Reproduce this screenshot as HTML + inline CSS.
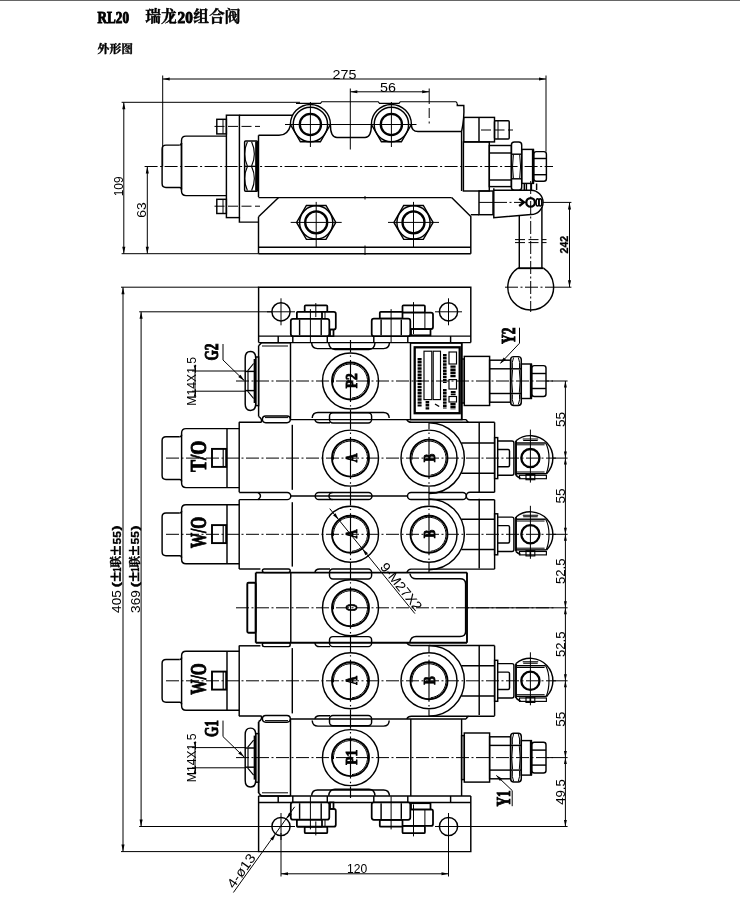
<!DOCTYPE html>
<html><head><meta charset="utf-8"><title>RL20</title>
<style>
html,body{margin:0;padding:0;background:#fff;}
body{width:740px;height:898px;overflow:hidden;font-family:"Liberation Sans",sans-serif;}
svg{display:block;will-change:transform;}
.o{fill:none;stroke:#000;stroke-width:1.45;}
.k2{fill:none;stroke:#000;stroke-width:1.9;}
.t1{fill:none;stroke:#000;stroke-width:1.15;}
.k{fill:none;stroke:#000;stroke-width:2.3;}
.t{fill:none;stroke:#000;stroke-width:1;}
.c{fill:none;stroke:#000;stroke-width:1;stroke-dasharray:13 2.5 2 2.5;}
.d{fill:none;stroke:#000;stroke-width:1;stroke-dasharray:10 3.5;}
.af{fill:#000;stroke:none;}
.pm{fill:none;stroke:#000;stroke-width:1.7;}
.bf{fill:#000;stroke:none;}
.wf{fill:#fff;stroke:#000;stroke-width:1.45;}
.wk{fill:#fff;stroke:#000;stroke-width:1.75;}
.tc{font-family:"Liberation Serif","Noto Serif CJK SC",serif;font-weight:bold;fill:#000;stroke:#000;stroke-width:0.4;}
.ts{font-family:"Liberation Sans",sans-serif;fill:#000;}
.tb{font-family:"Liberation Serif",serif;font-weight:bold;fill:#000;stroke:#000;stroke-width:0.95;}
.tsb{font-family:"Liberation Sans",sans-serif;font-weight:bold;fill:#000;stroke:#000;stroke-width:0.3;}
</style></head><body>
<svg width="740" height="898" viewBox="0 0 740 898">
<rect x="0" y="0" width="740" height="1" fill="#666"/>
<text class="tb" x="97.6" y="22.6" font-size="16" textLength="31.4" lengthAdjust="spacingAndGlyphs">RL20</text>
<text class="tc" x="145.3" y="22.3" font-size="15.8" textLength="31.6" lengthAdjust="spacingAndGlyphs">瑞龙</text>
<text class="tb" x="177.6" y="22.6" font-size="16" textLength="15.2" lengthAdjust="spacingAndGlyphs">20</text>
<text class="tc" x="193.2" y="22.3" font-size="15.8" textLength="47.4" lengthAdjust="spacingAndGlyphs">组合阀</text>
<text class="tc" x="97.6" y="53.2" font-size="11.8" textLength="35.4" lengthAdjust="spacingAndGlyphs">外形图</text>
<path class="t" d="M162.7 79L546 79"/>
<path class="af" d="M162.7 79L169.7 77.45L169.7 80.55Z"/>
<path class="af" d="M546 79L539 80.55L539 77.45Z"/>
<path class="t" d="M162.7 75.5L162.7 166.5"/>
<path class="t" d="M546 75.5L546 151.6"/>
<text class="ts" transform="translate(344.55 73.85)" x="-11.95" y="4.76" font-size="13.5" textLength="23.9" lengthAdjust="spacingAndGlyphs">275</text>
<path class="t" d="M350.3 91.8L429.2 91.8"/>
<path class="af" d="M350.3 91.8L357.3 90.25L357.3 93.35Z"/>
<path class="af" d="M429.2 91.8L422.2 93.35L422.2 90.25Z"/>
<path class="t" d="M350.3 88.5L350.3 149.5"/>
<path class="t" d="M429.2 88.5L429.2 104"/>
<path class="d" d="M429.2 108L429.2 123.5"/>
<text class="ts" transform="translate(387.95 86.8)" x="-7.95" y="4.76" font-size="13.5" textLength="15.9" lengthAdjust="spacingAndGlyphs">56</text>
<path class="t" d="M123.8 102.3L123.8 253.7"/>
<path class="af" d="M123.8 102.3L125.35 109.3L122.25 109.3Z"/>
<path class="af" d="M123.8 253.7L122.25 246.7L125.35 246.7Z"/>
<path class="t" d="M147.3 166.5L147.3 253.7"/>
<path class="af" d="M147.3 166.5L148.85 173.5L145.75 173.5Z"/>
<path class="af" d="M147.3 253.7L145.75 246.7L148.85 246.7Z"/>
<path class="t" d="M121.6 102.3L300 102.3"/>
<path class="t1" d="M296 103.4H320.5L321.8 101.7H378.2L379.5 103.4H399L400.3 101.7H456L457.3 103.4"/>
<path class="t" d="M121.6 253.7L258.5 253.7"/>
<text class="ts" transform="translate(118.2 186.4) rotate(-90)" x="-9.9" y="4.76" font-size="13.5" textLength="19.8" lengthAdjust="spacingAndGlyphs">109</text>
<text class="ts" transform="translate(141.5 210.1) rotate(-90)" x="-7.75" y="4.76" font-size="13.5" textLength="15.5" lengthAdjust="spacingAndGlyphs">63</text>
<path class="c" d="M144.6 166.5L553 166.5"/>
<path class="o" d="M179.5 145.1H166Q162.1 145.1 162.1 149V183.5Q162.1 187.4 166 187.4H179.5Q181.5 187.4 181.5 189.4"/>
<path class="o" d="M179.5 145.1Q181.5 145.1 181.5 143.1"/>
<path class="o" d="M226.4 136.1H186Q181.5 136.1 181.5 140.6V191.1Q181.5 195.6 186 195.6H226.4"/>
<path class="o" d="M181.5 143L181.5 189.5"/>
<rect class="o" x="226.4" y="115.2" width="13" height="102.4"/>
<rect class="o" x="216.8" y="119.3" width="9.6" height="14.6"/>
<rect class="o" x="216.8" y="199.3" width="9.6" height="14.2"/>
<path class="t" d="M223 119.3L223 133.9"/>
<path class="t" d="M223 199.3L223 213.5"/>
<path class="d" d="M214.5 126.4L260 126.4"/>
<path class="d" d="M214.5 206.2L260 206.2"/>
<path class="o" d="M239.4 115.2L293 115.2"/>
<path class="o" d="M239.4 217.6V222.1H258.5"/>
<path class="o" d="M258.5 135.3L258.5 197.1"/>
<path class="o" d="M258.5 216.8L258.5 253.7"/>
<path class="o" d="M258.5 135.3H279Q288 135.3 290.6 125"/>
<path class="o" d="M258.5 216.8L278.6 197.4"/>
<path class="o" d="M258.5 197.6L451.6 197.6"/>
<path class="o" d="M451.6 197.6L470.8 216.5V253.7"/>
<path class="o" d="M258.5 247.3L470.8 247.3"/>
<path class="o" d="M258.5 253.7L470.8 253.7"/>
<path class="t" d="M365 196L365 199.5"/>
<path class="t" d="M365 245.5L365 255"/>
<rect class="o" x="244.6" y="141" width="13" height="50.2" rx="1"/>
<path class="k" d="M256.3 141.5L256.3 190.8"/>
<path class="t" d="M244.6 166.2L255 166.2"/>
<path class="t1" d="M247.4 141.8Q241.9 154 247.4 166M251.6 141.8Q257.1 154 251.6 166M247.4 166.6Q241.9 178.5 247.4 190.6M251.6 166.6Q257.1 178.5 251.6 190.6"/>
<path class="o" d="M290.4 124.5A20 20 0 0 1 330.4 124.5"/>
<path class="o" d="M330.4 124.5L320.4 141.82L300.4 141.82L290.4 124.5"/>
<circle class="o" cx="310.4" cy="124.5" r="17.2"/>
<circle class="k" cx="310.4" cy="124.5" r="10.6"/>
<path class="t" d="M310.4 102L310.4 147"/>
<path class="o" d="M371.4 124.5A20 20 0 0 1 411.4 124.5"/>
<path class="o" d="M411.4 124.5L401.4 141.82L381.4 141.82L371.4 124.5"/>
<circle class="o" cx="391.4" cy="124.5" r="17.2"/>
<circle class="k" cx="391.4" cy="124.5" r="10.6"/>
<path class="t" d="M391.4 102L391.4 147"/>
<path class="t" d="M285 124.5L416.5 124.5"/>
<path class="o" d="M330.4 124.5Q330.4 137.5 337 137.5H365Q371.4 137.5 371.4 124.5"/>
<path class="o" d="M411.4 124.5Q411.4 131.5 418 131.5H461.6"/>
<path class="o" d="M457.3 103.4V105.5H463.8Q464.5 118 461.6 131.5V191"/>
<rect class="o" x="463.4" y="141.9" width="25.9" height="49.1"/>
<rect class="o" x="463.8" y="117.4" width="30.7" height="24.5"/>
<path class="o" d="M479 117.4L479 141.9"/>
<rect class="o" x="494.5" y="120.7" width="14.7" height="18.3" rx="1"/>
<path class="t" d="M498 120.7L498 139"/>
<path class="d" d="M481 130L513 130"/>
<rect class="o" x="489.3" y="145.5" width="22.1" height="41.1"/>
<path class="o" d="M489.3 153L511.4 153"/>
<path class="o" d="M489.3 180L511.4 180"/>
<rect class="o" x="511.4" y="141.9" width="10.3" height="48.4" rx="3"/>
<path class="o" d="M511.4 154.2L521.7 154.2"/>
<path class="o" d="M511.4 178.8L521.7 178.8"/>
<path class="t" d="M513.4 154.8Q511.7 166.5 513.4 178.2M519.7 154.8Q521.4 166.5 519.7 178.2"/>
<rect class="o" x="521.7" y="149.4" width="11.7" height="34"/>
<path class="k" d="M533 149.4L533 183.4"/>
<rect class="o" x="533.8" y="151.6" width="12.6" height="29.6" rx="2.5"/>
<path class="o" d="M533.8 158.5L546.4 158.5"/>
<path class="o" d="M533.8 174.7L546.4 174.7"/>
<rect class="o" x="479" y="191" width="14" height="23.7"/>
<path class="t" d="M479 202.4L493 202.4"/>
<path class="o" d="M470.8 214.7L479 214.7"/>
<path class="o" d="M335.8 222.4L326 239.37L306.4 239.37L296.6 222.4L306.4 205.43L326 205.43Z"/>
<circle class="o" cx="316.2" cy="222.4" r="16.6"/>
<circle class="k" cx="316.2" cy="222.4" r="11"/>
<path class="t" d="M290.7 222.4L341.7 222.4"/>
<path class="t" d="M316.2 201.9L316.2 247.9"/>
<path class="o" d="M433.1 222.4L423.3 239.37L403.7 239.37L393.9 222.4L403.7 205.43L423.3 205.43Z"/>
<circle class="o" cx="413.5" cy="222.4" r="16.6"/>
<circle class="k" cx="413.5" cy="222.4" r="11"/>
<path class="t" d="M388 222.4L439 222.4"/>
<path class="t" d="M413.5 201.9L413.5 247.9"/>
<path class="o" d="M493.8 188.2V217.6L531 214.5A12 12.1 0 0 0 531 190.2H494.5"/>
<path class="o" d="M524.3 183.4V190M526.4 183.4V190M531.4 183.4V190M536.6 183.4V190"/>
<circle class="k" cx="530.6" cy="202.4" r="4.3"/>
<path class="c" d="M494 202.4L526 202.4"/>
<path class="k" d="M519.2 198.6L524 202.3L519.2 206"/>
<ellipse class="o" cx="537.6" cy="202.4" rx="1.5" ry="3.6"/><ellipse class="o" cx="540.3" cy="202.4" rx="1.5" ry="3.6"/>
<path class="o" d="M519.3 216L519.3 268.2"/>
<path class="o" d="M541.9 207L541.9 268.2"/>
<path class="k2" d="M517.9 268.2L543.5 268.2"/>
<path class="d" d="M515 239.6L546.5 239.6"/>
<path class="d" d="M515 242.6L546.5 242.6"/>
<path class="c" d="M530.7 181L530.7 312"/>
<path class="o" d="M517.9 268.2A22.9 22.9 0 1 0 543.5 268.2"/>
<path class="c" d="M505 287.2L553.4 287.2"/>
<path class="t" d="M542.5 202.4L571.4 202.4"/>
<path class="t" d="M553.7 287.2L571.4 287.2"/>
<path class="t" d="M569.5 202.4L569.5 287.2"/>
<path class="af" d="M569.5 202.4L571.05 209.4L567.95 209.4Z"/>
<path class="af" d="M569.5 287.2L567.95 280.2L571.05 280.2Z"/>
<text class="tsb" transform="translate(564.4 244.6) rotate(-90)" x="-8.85" y="3.7" font-size="10.5" textLength="17.7" lengthAdjust="spacingAndGlyphs">242</text>
<path class="o" d="M258.6 342.6V287.2H470.8V342.6"/>
<path class="o" d="M258.6 336.1L470.8 336.1"/>
<path class="o" d="M278.2 336.1L278.2 342.6"/>
<path class="o" d="M292.8 336.1L292.8 342.6"/>
<path class="o" d="M327.3 336.1L327.3 342.6"/>
<path class="o" d="M373.8 336.1L373.8 342.6"/>
<path class="o" d="M407.8 336.1L407.8 342.6"/>
<path class="o" d="M450.6 336.1L450.6 342.6"/>
<path class="o" d="M258.6 796V851.6H470.8V796"/>
<path class="o" d="M258.6 802.4L470.8 802.4"/>
<path class="o" d="M278.2 802.4L278.2 796"/>
<path class="o" d="M292.8 802.4L292.8 796"/>
<path class="o" d="M327.3 802.4L327.3 796"/>
<path class="o" d="M373.8 802.4L373.8 796"/>
<path class="o" d="M407.8 802.4L407.8 796"/>
<path class="o" d="M450.6 802.4L450.6 796"/>
<path class="o" d="M258.6 342.6L470.8 342.6"/>
<path class="o" d="M258.6 796L470.8 796"/>
<rect class="wk" x="304.7" y="305.3" width="22.6" height="6.5" rx="1"/>
<rect class="wk" x="296.9" y="311.8" width="38.9" height="17.8" rx="2"/>
<path class="t" d="M325 329.6L325 311.8"/>
<rect class="wk" x="330" y="329.6" width="3.5" height="6.5"/>
<rect class="wk" x="296.9" y="311.8" width="25.1" height="7" rx="1"/>
<rect class="wk" x="290.8" y="318.8" width="38.5" height="17.3" rx="2.2"/>
<path class="o" d="M299.6 335.3L299.6 319.6"/>
<path class="o" d="M321.2 335.3L321.2 319.6"/>
<path class="t" d="M310.4 342.1L310.4 309.1"/>
<path class="t" d="M315.8 317.1L315.8 303.1"/>
<rect class="wk" x="402.5" y="305.3" width="22.4" height="7.3" rx="1"/>
<rect class="wk" x="394" y="312.6" width="39" height="16.5" rx="2"/>
<path class="t" d="M424.9 329.1L424.9 312.6"/>
<rect class="wk" x="411" y="329.1" width="19.5" height="6.2"/>
<rect class="wk" x="379.8" y="311.8" width="22.7" height="6.9" rx="1"/>
<rect class="wk" x="371.7" y="318.7" width="38.6" height="17.4" rx="2.2"/>
<path class="o" d="M381.1 335.3L381.1 319.6"/>
<path class="o" d="M401.3 335.3L401.3 319.6"/>
<path class="t" d="M391.1 342.1L391.1 309.1"/>
<path class="t" d="M413.5 334.1L413.5 302.1"/>
<rect class="wk" x="304.7" y="826.7" width="22.6" height="6.5" rx="1"/>
<rect class="wk" x="296.9" y="808.9" width="38.9" height="17.8" rx="2"/>
<path class="t" d="M325 808.9L325 826.7"/>
<rect class="wk" x="330" y="802.4" width="3.5" height="6.5"/>
<rect class="wk" x="296.9" y="819.7" width="25.1" height="7" rx="1"/>
<rect class="wk" x="290.8" y="802.4" width="38.5" height="17.3" rx="2.2"/>
<path class="o" d="M299.6 803.2L299.6 818.9"/>
<path class="o" d="M321.2 803.2L321.2 818.9"/>
<path class="t" d="M310.4 796.4L310.4 829.4"/>
<path class="t" d="M315.8 821.4L315.8 835.4"/>
<rect class="wk" x="402.5" y="825.9" width="22.4" height="7.3" rx="1"/>
<rect class="wk" x="394" y="809.4" width="39" height="16.5" rx="2"/>
<path class="t" d="M424.9 809.4L424.9 825.9"/>
<rect class="wk" x="411" y="803.2" width="19.5" height="6.2"/>
<rect class="wk" x="379.8" y="819.8" width="22.7" height="6.9" rx="1"/>
<rect class="wk" x="371.7" y="802.4" width="38.6" height="17.4" rx="2.2"/>
<path class="o" d="M381.1 803.2L381.1 818.9"/>
<path class="o" d="M401.3 803.2L401.3 818.9"/>
<path class="t" d="M391.1 796.4L391.1 829.4"/>
<path class="t" d="M413.5 804.4L413.5 836.4"/>
<circle class="o" cx="281" cy="311.8" r="9.1"/>
<path class="t" d="M281 298.3L281 325.3"/>
<circle class="o" cx="448.5" cy="311.8" r="9.1"/>
<path class="t" d="M448.5 298.3L448.5 325.3"/>
<path class="t" d="M267 311.8L295 311.8"/>
<path class="t" d="M435 311.8L462 311.8"/>
<circle class="o" cx="281" cy="826.5" r="9.1"/>
<path class="t" d="M281 813L281 840"/>
<circle class="o" cx="448.5" cy="826.5" r="9.1"/>
<path class="t" d="M448.5 813L448.5 840"/>
<path class="t" d="M267 826.5L295 826.5"/>
<path class="t" d="M435 826.5L462 826.5"/>
<path class="o" d="M239.2 422.3L239.2 492.3"/>
<path class="o" d="M494.6 422.3L494.6 492.3"/>
<path class="o" d="M292.3 424.8L292.3 489.8"/>
<path class="o" d="M179.6 436.70000000000005H166Q162.1 436.70000000000005 162.1 440.6V475.6Q162.1 479.5 166 479.5H179.6Q181.6 479.5 181.6 481.5"/>
<path class="o" d="M179.6 436.70000000000005Q181.6 436.70000000000005 181.6 434.70000000000005"/>
<path class="o" d="M239.2 428.6H186Q181.6 428.6 181.6 433.1V483.1Q181.6 487.6 186 487.6H239.2"/>
<path class="o" d="M227 428.7L227 487.5"/>
<rect class="k2" x="212" y="448.9" width="14.2" height="18"/>
<path class="t1" d="M223.2 448.9L223.2 466.9"/>
<text class="tb" transform="translate(198.3 456.3) rotate(-90)" x="-15.75" y="7.53" font-size="23" textLength="31.5" lengthAdjust="spacingAndGlyphs">T/O</text>
<circle class="o" cx="350.5" cy="458.1" r="28"/>
<circle class="k2" cx="350.5" cy="458.1" r="18.5"/>
<path class="t" d="M333.5 459.6A17.05 17.05 0 1 1 352 475.1"/>
<text class="tb" transform="translate(351.3 457.8) rotate(-90)" x="-4.35" y="5.67" font-size="17.3" textLength="8.7" lengthAdjust="spacingAndGlyphs">A</text>
<circle class="o" cx="429" cy="458.1" r="28"/>
<circle class="k2" cx="429" cy="458.1" r="18.5"/>
<path class="t" d="M412 459.6A17.05 17.05 0 1 1 430.5 475.1"/>
<text class="tb" transform="translate(429.8 457.8) rotate(-90)" x="-4.1" y="5.67" font-size="17.3" textLength="8.2" lengthAdjust="spacingAndGlyphs">B</text>
<path class="o" d="M429 422.7A35.4 35.4 0 0 1 429 493.5"/>
<path class="o" d="M461.3 443L494.6 443"/>
<path class="o" d="M461.3 473.2L494.6 473.2"/>
<path class="o" d="M479.2 422.5L479.2 492.4"/>
<rect class="o" x="494.6" y="437.6" width="3.1" height="41"/>
<path class="o" d="M497.7 440.90000000000003H512Q513.9 440.90000000000003 513.9 442.90000000000003V473.3Q513.9 475.3 512 475.3H497.7"/>
<path class="o" d="M497.7 449.40000000000003H508Q509.5 449.40000000000003 509.5 450.90000000000003V465.3Q509.5 466.8 508 466.8H497.7"/>
<path class="o" d="M516 440.81A22.5 22.5 0 0 1 546.61 473.7"/>
<path class="o" d="M516 475.39A22.5 22.5 0 0 0 520.5 478.3"/>
<path class="k2" d="M516 440.81L516 475.39"/>
<path class="o" d="M516 443L545.7 443"/>
<path class="t" d="M516.5 444.8L544.6 444.8"/>
<path class="o" d="M516 473.7L546.61 473.7"/>
<path class="t" d="M516.5 472L544.6 472"/>
<path class="t1" d="M545.7 443.0Q549 449.1 549 458.1Q549 467.1 546.2 473.70000000000005"/>
<path class="t1" d="M522.7 439.0H538.2M523.2 440.5H537.7"/>
<circle class="k" cx="530.4" cy="458.1" r="9.1"/>
<path class="t" d="M530.4 429.6L530.4 482.6"/>
<rect class="t1" x="519.5" y="475.3" width="26.9" height="3.4"/>
<rect class="t1" x="526" y="474.5" width="4.2" height="5.2"/>
<rect class="t1" x="530.6" y="474.5" width="4.2" height="5.2"/>
<path class="c" d="M166 458.1L556 458.1"/>
<path class="o" d="M239.2 499.7L239.2 569.1"/>
<path class="o" d="M494.6 499.7L494.6 569.1"/>
<path class="o" d="M292.3 502.2L292.3 566.6"/>
<path class="o" d="M179.6 512.9H166Q162.1 512.9 162.1 516.8V551.8Q162.1 555.6999999999999 166 555.6999999999999H179.6Q181.6 555.6999999999999 181.6 557.6999999999999"/>
<path class="o" d="M179.6 512.9Q181.6 512.9 181.6 510.9"/>
<path class="o" d="M239.2 504.79999999999995H186Q181.6 504.79999999999995 181.6 509.29999999999995V559.3Q181.6 563.8 186 563.8H239.2"/>
<path class="o" d="M227 504.9L227 563.7"/>
<rect class="k2" x="212" y="525.1" width="14.2" height="18"/>
<path class="t1" d="M223.2 525.1L223.2 543.1"/>
<text class="tb" transform="translate(198.3 532.5) rotate(-90)" x="-15.75" y="7.53" font-size="23" textLength="31.5" lengthAdjust="spacingAndGlyphs">W/O</text>
<circle class="o" cx="350.5" cy="534.3" r="28"/>
<circle class="k2" cx="350.5" cy="534.3" r="18.5"/>
<path class="t" d="M333.5 535.8A17.05 17.05 0 1 1 352 551.3"/>
<text class="tb" transform="translate(351.3 534) rotate(-90)" x="-4.35" y="5.67" font-size="17.3" textLength="8.7" lengthAdjust="spacingAndGlyphs">A</text>
<circle class="o" cx="429" cy="534.3" r="28"/>
<circle class="k2" cx="429" cy="534.3" r="18.5"/>
<path class="t" d="M412 535.8A17.05 17.05 0 1 1 430.5 551.3"/>
<text class="tb" transform="translate(429.8 534) rotate(-90)" x="-4.1" y="5.67" font-size="17.3" textLength="8.2" lengthAdjust="spacingAndGlyphs">B</text>
<path class="o" d="M429 498.9A35.4 35.4 0 0 1 429 569.7"/>
<path class="o" d="M461.3 519.2L494.6 519.2"/>
<path class="o" d="M461.3 549.4L494.6 549.4"/>
<path class="o" d="M479.2 498.7L479.2 568.6"/>
<rect class="o" x="494.6" y="513.8" width="3.1" height="41"/>
<path class="o" d="M497.7 517.0999999999999H512Q513.9 517.0999999999999 513.9 519.0999999999999V549.5Q513.9 551.5 512 551.5H497.7"/>
<path class="o" d="M497.7 525.5999999999999H508Q509.5 525.5999999999999 509.5 527.0999999999999V541.5Q509.5 543.0 508 543.0H497.7"/>
<path class="o" d="M516 517.01A22.5 22.5 0 0 1 546.61 549.9"/>
<path class="o" d="M516 551.59A22.5 22.5 0 0 0 520.5 554.5"/>
<path class="k2" d="M516 517.01L516 551.59"/>
<path class="o" d="M516 519.2L545.7 519.2"/>
<path class="t" d="M516.5 521L544.6 521"/>
<path class="o" d="M516 549.9L546.61 549.9"/>
<path class="t" d="M516.5 548.2L544.6 548.2"/>
<path class="t1" d="M545.7 519.1999999999999Q549 525.3 549 534.3Q549 543.3 546.2 549.9"/>
<path class="t1" d="M522.7 515.1999999999999H538.2M523.2 516.6999999999999H537.7"/>
<circle class="k" cx="530.4" cy="534.3" r="9.1"/>
<path class="t" d="M530.4 505.8L530.4 558.8"/>
<rect class="t1" x="519.5" y="551.5" width="26.9" height="3.4"/>
<rect class="t1" x="526" y="550.7" width="4.2" height="5.2"/>
<rect class="t1" x="530.6" y="550.7" width="4.2" height="5.2"/>
<path class="c" d="M166 534.3L556 534.3"/>
<path class="o" d="M239.2 645.6L239.2 715.9"/>
<path class="o" d="M494.6 645.6L494.6 715.9"/>
<path class="o" d="M292.3 648.1L292.3 713.4"/>
<path class="o" d="M179.6 659.4H166Q162.1 659.4 162.1 663.3V698.3Q162.1 702.1999999999999 166 702.1999999999999H179.6Q181.6 702.1999999999999 181.6 704.1999999999999"/>
<path class="o" d="M179.6 659.4Q181.6 659.4 181.6 657.4"/>
<path class="o" d="M239.2 651.3H186Q181.6 651.3 181.6 655.8V705.8Q181.6 710.3 186 710.3H239.2"/>
<path class="o" d="M227 651.4L227 710.2"/>
<rect class="k2" x="212" y="671.6" width="14.2" height="18"/>
<path class="t1" d="M223.2 671.6L223.2 689.6"/>
<text class="tb" transform="translate(198.3 679) rotate(-90)" x="-15.75" y="7.53" font-size="23" textLength="31.5" lengthAdjust="spacingAndGlyphs">W/O</text>
<circle class="o" cx="350.5" cy="680.8" r="28"/>
<circle class="k2" cx="350.5" cy="680.8" r="18.5"/>
<path class="t" d="M333.5 682.3A17.05 17.05 0 1 1 352 697.8"/>
<text class="tb" transform="translate(351.3 680.5) rotate(-90)" x="-4.35" y="5.67" font-size="17.3" textLength="8.7" lengthAdjust="spacingAndGlyphs">A</text>
<circle class="o" cx="429" cy="680.8" r="28"/>
<circle class="k2" cx="429" cy="680.8" r="18.5"/>
<path class="t" d="M412 682.3A17.05 17.05 0 1 1 430.5 697.8"/>
<text class="tb" transform="translate(429.8 680.5) rotate(-90)" x="-4.1" y="5.67" font-size="17.3" textLength="8.2" lengthAdjust="spacingAndGlyphs">B</text>
<path class="o" d="M429 645.4A35.4 35.4 0 0 1 429 716.2"/>
<path class="o" d="M461.3 665.7L494.6 665.7"/>
<path class="o" d="M461.3 695.9L494.6 695.9"/>
<path class="o" d="M479.2 645.2L479.2 715.1"/>
<rect class="o" x="494.6" y="660.3" width="3.1" height="41"/>
<path class="o" d="M497.7 663.5999999999999H512Q513.9 663.5999999999999 513.9 665.5999999999999V696.0Q513.9 698.0 512 698.0H497.7"/>
<path class="o" d="M497.7 672.0999999999999H508Q509.5 672.0999999999999 509.5 673.5999999999999V688.0Q509.5 689.5 508 689.5H497.7"/>
<path class="o" d="M516 663.51A22.5 22.5 0 0 1 546.61 696.4"/>
<path class="o" d="M516 698.09A22.5 22.5 0 0 0 520.5 701"/>
<path class="k2" d="M516 663.51L516 698.09"/>
<path class="o" d="M516 665.7L545.7 665.7"/>
<path class="t" d="M516.5 667.5L544.6 667.5"/>
<path class="o" d="M516 696.4L546.61 696.4"/>
<path class="t" d="M516.5 694.7L544.6 694.7"/>
<path class="t1" d="M545.7 665.6999999999999Q549 671.8 549 680.8Q549 689.8 546.2 696.4"/>
<path class="t1" d="M522.7 661.6999999999999H538.2M523.2 663.1999999999999H537.7"/>
<circle class="k" cx="530.4" cy="680.8" r="9.1"/>
<path class="t" d="M530.4 652.3L530.4 705.3"/>
<rect class="t1" x="519.5" y="698" width="26.9" height="3.4"/>
<rect class="t1" x="526" y="697.2" width="4.2" height="5.2"/>
<rect class="t1" x="530.6" y="697.2" width="4.2" height="5.2"/>
<path class="c" d="M166 680.8L556 680.8"/>
<path class="t1" d="M350.5 340V352.2M350.5 355.4V356.8M350.5 360V402M350.5 405.2V406.6M350.5 409.8V429.3M350.5 432.5V433.9M350.5 437.1V479.1M350.5 482.3V483.7M350.5 486.9V505.5M350.5 508.7V510.1M350.5 513.3V555.3M350.5 558.5V559.9M350.5 563.1V579M350.5 582.2V583.6M350.5 586.8V628.8M350.5 632V633.4M350.5 636.6V652M350.5 655.2V656.6M350.5 659.8V701.8M350.5 705V706.4M350.5 709.6V728.8M350.5 732V733.4M350.5 736.6V778.6M350.5 781.8V783.2M350.5 786.4V798"/>
<path class="t1" d="M429 422V429.3M429 432.5V433.9M429 437.1V479.1M429 482.3V483.7M429 486.9V505.5M429 508.7V510.1M429 513.3V555.3M429 558.5V559.9M429 563.1V572"/>
<path class="t1" d="M429 646V652M429 655.2V656.6M429 659.8V701.8M429 705V706.4M429 709.6V717"/>
<path class="o" d="M290.4 419.6L466.2 419.6"/>
<path class="o" d="M238.9 422.3H261Q262.5 420 260 417.5L258.6 416.5"/>
<rect class="o" x="262.4" y="416" width="27.9" height="6.7" rx="3.35"/>
<path class="t" d="M265 417.6L288 417.6"/>
<path class="o" d="M312.2 418Q312.5 412.4 318 412.4H383.5Q389 412.4 389.2 418"/>
<rect class="o" x="329.5" y="412.8" width="42.1" height="10.2" rx="3.4"/>
<path class="o" d="M314.9 419.6Q315.5 422.7 319.5 422.7H330"/>
<path class="o" d="M406.8 419.6Q408 422.3 411.5 422.3H494.6"/>
<path class="o" d="M466.2 419.6Q467 421.8 468.5 422.3"/>
<path class="o" d="M290.4 718.9L466.2 718.9"/>
<path class="o" d="M238.9 715.9H261Q262.5 718.2 260 720.7L258.6 721.7"/>
<rect class="o" x="262.4" y="715.5" width="27.9" height="6.7" rx="3.35"/>
<path class="t" d="M265 720.6L288 720.6"/>
<path class="o" d="M312.2 720.5Q312.5 726.1 318 726.1H383.5Q389 726.1 389.2 720.5"/>
<rect class="o" x="329.5" y="715.5" width="42.1" height="10.2" rx="3.4"/>
<path class="o" d="M314.9 718.9Q315.5 715.8 319.5 715.8H330"/>
<path class="o" d="M406.8 718.9Q408 716.2 411.5 716.2H494.6"/>
<path class="o" d="M466.2 718.9Q467 716.7 468.5 716.2"/>
<path class="o" d="M239.2 492.4H287.2A3.6 3.6 0 0 1 287.2 499.6H239.2"/>
<path class="o" d="M258 492.4Q263 496 258 499.6"/>
<path class="o" d="M494.6 492.3H470A3.7 3.7 0 0 0 470 499.7H494.6"/>
<path class="o" d="M290.8 496L408 496"/>
<rect class="o" x="315.2" y="492.4" width="56.8" height="7.1" rx="3.55"/>
<path class="o" d="M332.5 492.4A3.55 3.55 0 0 0 332.5 499.5"/>
<rect class="o" x="407.5" y="492.4" width="58.8" height="7.1" rx="3.55"/>
<path class="k2" d="M255.8 572.6L467 572.6"/>
<path class="o" d="M239.2 569H260.4"/>
<rect class="o" x="262.4" y="568.9" width="27.8" height="3.7" rx="1.8"/>
<path class="o" d="M314.9 572.6Q315.5 569 319.5 569H330"/>
<rect class="o" x="329.5" y="569" width="42.1" height="10" rx="3.4"/>
<path class="o" d="M494.6 569.1H411Q408 569.3 406.9 572.5"/>
<path class="k2" d="M255.8 642.8L467 642.8"/>
<path class="o" d="M239.2 645.8H260.4"/>
<rect class="o" x="262.4" y="642.8" width="27.8" height="3.8" rx="1.8"/>
<path class="o" d="M314.9 642.8Q315.5 646.6 319.5 646.6H330"/>
<rect class="o" x="329.5" y="636.6" width="42.1" height="10" rx="3.4"/>
<path class="o" d="M494.6 645.5H411Q408 645.3 406.9 642.8"/>
<path class="k2" d="M255.8 572.6L255.8 642.8"/>
<path class="k2" d="M467 572.6L467 642.8"/>
<path class="o" d="M290.8 572.6L290.8 642.8"/>
<rect class="k2" x="247.3" y="582.7" width="8.4" height="50" rx="1.2"/>
<circle class="o" cx="350.5" cy="607.8" r="28"/>
<circle class="k2" cx="350.5" cy="607.8" r="18.5"/>
<path class="t" d="M333.5 609.3A17.05 17.05 0 1 1 352 624.8"/>
<text class="tb" transform="translate(351.3 607.5) rotate(-90)" x="-3.7" y="5.67" font-size="17.3" textLength="7.4" lengthAdjust="spacingAndGlyphs">O</text>
<path class="c" d="M236 607.8L556 607.8"/>
<path class="o" d="M409.9 573.6Q411 578.8 416 578.8H460Q465.6 578.8 465.6 584V631.5Q465.6 636.5 460 636.5H416Q411 636.5 409.9 642"/>
<path class="o" d="M258.6 345.6L258.6 416.5"/>
<path class="o" d="M290.5 342.6L290.5 419.6"/>
<path class="o" d="M461.6 342.6L461.6 419.6"/>
<circle class="o" cx="350.5" cy="381" r="28"/>
<circle class="k2" cx="350.5" cy="381" r="18.5"/>
<path class="t" d="M333.5 382.5A17.05 17.05 0 1 1 352 398"/>
<text class="tb" transform="translate(351.3 380.7) rotate(-90)" x="-7.5" y="5.67" font-size="17.3" textLength="15" lengthAdjust="spacingAndGlyphs">P2</text>
<path class="c" d="M236 381L553 381"/>
<path class="o" d="M245.2 390.6V358Q245.2 351.5 250.4 351.5Q255.7 351.5 255.7 358V404Q255.7 410.4 250.4 410.4Q245.2 410.4 245.2 404V390.6"/>
<rect class="o" x="255.7" y="357" width="2.9" height="48.6"/>
<path class="k" d="M254.8 359L254.8 403"/>
<path class="o" d="M245.2 371.4L255.7 371.4"/>
<path class="o" d="M245.2 390.6L255.7 390.6"/>
<path class="t1" d="M247.6 370.8L253.6 363.5M247.6 391.2L253.6 398.5M248 371.5V390.5"/>
<rect class="o" x="461.6" y="359" width="2.7" height="44"/>
<rect class="o" x="464.3" y="356.4" width="25.3" height="49.1"/>
<rect class="o" x="489.6" y="360.2" width="21" height="42"/>
<path class="o" d="M489.6 368.8L510.6 368.8"/>
<path class="o" d="M489.6 393.5L510.6 393.5"/>
<rect class="o" x="510.6" y="356.6" width="10.7" height="48.8" rx="3.2"/>
<path class="o" d="M510.6 368.8L521.3 368.8"/>
<path class="o" d="M510.6 393.5L521.3 393.5"/>
<path class="t" d="M512.6 369.5Q510.9 381 512.6 392.8M519.3 369.5Q521 381 519.3 392.8"/>
<path class="t" d="M512.4 368Q511.6 362 513.6 357.5M519.5 368Q520.3 362 518.3 357.5M512.4 394.3Q511.6 400 513.6 404.5M519.5 394.3Q520.3 400 518.3 404.5"/>
<rect class="o" x="521.3" y="364" width="10.1" height="34.5"/>
<path class="k" d="M531 364L531 398.5"/>
<rect class="o" x="531.8" y="365.6" width="14.2" height="30.8" rx="2.5"/>
<path class="o" d="M531.8 373.5L546 373.5"/>
<path class="o" d="M531.8 388.5L546 388.5"/>
<path class="o" d="M258.6 721.9L258.6 793"/>
<path class="o" d="M290.5 718.9L290.5 796"/>
<path class="o" d="M461.6 718.9L461.6 796"/>
<circle class="o" cx="350.5" cy="757.6" r="28"/>
<circle class="k2" cx="350.5" cy="757.6" r="18.5"/>
<path class="t" d="M333.5 759.1A17.05 17.05 0 1 1 352 774.6"/>
<text class="tb" transform="translate(351.3 757.3) rotate(-90)" x="-7.5" y="5.67" font-size="17.3" textLength="15" lengthAdjust="spacingAndGlyphs">P1</text>
<path class="c" d="M236 757.6L553 757.6"/>
<path class="o" d="M245.2 767.2V734.6Q245.2 728.1 250.4 728.1Q255.7 728.1 255.7 734.6V780.6Q255.7 787.0 250.4 787.0Q245.2 787.0 245.2 780.6V767.2"/>
<rect class="o" x="255.7" y="733.6" width="2.9" height="48.6"/>
<path class="k" d="M254.8 735.6L254.8 779.6"/>
<path class="o" d="M245.2 748L255.7 748"/>
<path class="o" d="M245.2 767.2L255.7 767.2"/>
<path class="t1" d="M247.6 747.4L253.6 740.1M247.6 767.8000000000001L253.6 775.1M248 748.1V767.1"/>
<rect class="o" x="461.6" y="735.6" width="2.7" height="44"/>
<rect class="o" x="464.3" y="733" width="25.3" height="49.1"/>
<rect class="o" x="489.6" y="736.8" width="21" height="42"/>
<path class="o" d="M489.6 745.4L510.6 745.4"/>
<path class="o" d="M489.6 770.1L510.6 770.1"/>
<rect class="o" x="510.6" y="733.2" width="10.7" height="48.8" rx="3.2"/>
<path class="o" d="M510.6 745.4L521.3 745.4"/>
<path class="o" d="M510.6 770.1L521.3 770.1"/>
<path class="t" d="M512.6 746.1Q510.9 757.6 512.6 769.4M519.3 746.1Q521 757.6 519.3 769.4"/>
<path class="t" d="M512.4 744.6Q511.6 738.6 513.6 734.1M519.5 744.6Q520.3 738.6 518.3 734.1M512.4 770.9Q511.6 776.6 513.6 781.1M519.5 770.9Q520.3 776.6 518.3 781.1"/>
<rect class="o" x="521.3" y="740.6" width="10.1" height="34.5"/>
<path class="k" d="M531 740.6L531 775.1"/>
<rect class="o" x="531.8" y="742.2" width="14.2" height="30.8" rx="2.5"/>
<path class="o" d="M531.8 750.1L546 750.1"/>
<path class="o" d="M531.8 765.1L546 765.1"/>
<path class="o" d="M290.4 342.8H261.6L258.6 345.8"/>
<path class="t" d="M262 346L288 346"/>
<path class="o" d="M258.6 793L261.6 796H290.4"/>
<path class="t" d="M262 792.8L288 792.8"/>
<path class="o" d="M258.6 721.7V793"/>
<path class="o" d="M311.6 342.8Q312 348.6 317.5 348.6H383.6Q389 348.6 389.5 342.8"/>
<path class="o" d="M328.7 342.8Q329.3 349.4 335 349.4H369Q374.5 349.4 375 342.8"/>
<path class="o" d="M311.6 795.8Q312 790 317.5 790H383.6Q389 790 389.5 795.8"/>
<path class="o" d="M328.7 795.8Q329.3 789.2 335 789.2H369Q374.5 789.2 375 795.8"/>
<path class="o" d="M410.8 718.9L410.8 796"/>
<rect class="o" x="410.5" y="343.1" width="51.4" height="76.5"/>
<rect class="k" x="414.7" y="347.3" width="45" height="65.9"/>
<path d="M419.6 358.0V406.6" fill="none" stroke="#000" stroke-width="4.0" stroke-dasharray="2.4 0.7"/>
<rect class="t1" x="424" y="351.2" width="7.8" height="48.4"/>
<rect class="t1" x="433.2" y="351.2" width="7.3" height="48.4"/>
<path d="M427.4 401.0V410.0" fill="none" stroke="#000" stroke-width="3.6" stroke-dasharray="2.4 0.7"/>
<path class="o" d="M435 404L439.2 406.5"/>
<path d="M444.8 354.0V383.0" fill="none" stroke="#000" stroke-width="3.6" stroke-dasharray="2.4 0.7"/>
<path d="M444.8 389.0V408.6" fill="none" stroke="#000" stroke-width="3.6" stroke-dasharray="2.4 0.7"/>
<rect class="t1" x="449" y="352" width="7.5" height="12"/>
<path d="M453.0 365.4V378.0" fill="none" stroke="#000" stroke-width="5.2" stroke-dasharray="2.4 0.7"/>
<rect class="t1" x="449" y="379.6" width="7.5" height="9.4"/>
<path d="M453.2 391.0V395.2" fill="none" stroke="#000" stroke-width="4.8" stroke-dasharray="2.4 0.7"/>
<rect class="t1" x="449" y="396.5" width="7.5" height="5.5"/>
<path d="M453.0 403.0V409.5" fill="none" stroke="#000" stroke-width="5.2" stroke-dasharray="2.4 0.7"/>
<text class="tb" transform="translate(212.5 352) rotate(-90)" x="-8.5" y="5.83" font-size="17.8" textLength="17" lengthAdjust="spacingAndGlyphs">G2</text>
<path class="t" d="M223 344V360L244.2 380.5"/>
<path class="af" d="M244.4 380.7L238.26 376.98L240.48 374.68Z"/>
<text class="ts" transform="translate(191.2 381.3) rotate(-90)" x="-24.35" y="4.76" font-size="13.5" textLength="48.7" lengthAdjust="spacingAndGlyphs">M14X1.5</text>
<path class="t" d="M192 371L246 371"/>
<path class="t" d="M192 391.2L246 391.2"/>
<path class="t" d="M195 371L195 391.2"/>
<path class="af" d="M195 371L193.7 365.5L196.3 365.5Z"/>
<path class="af" d="M195 391.2L196.3 396.7L193.7 396.7Z"/>
<text class="tb" transform="translate(212.5 728.6) rotate(-90)" x="-8.5" y="5.83" font-size="17.8" textLength="17" lengthAdjust="spacingAndGlyphs">G1</text>
<path class="t" d="M223 720.6V736.6L244.2 757.1"/>
<path class="af" d="M244.4 757.3L238.26 753.58L240.48 751.28Z"/>
<text class="ts" transform="translate(191.2 757.9) rotate(-90)" x="-24.35" y="4.76" font-size="13.5" textLength="48.7" lengthAdjust="spacingAndGlyphs">M14X1.5</text>
<path class="t" d="M192 747.6L246 747.6"/>
<path class="t" d="M192 767.8L246 767.8"/>
<path class="t" d="M195 747.6L195 767.8"/>
<path class="af" d="M195 747.6L193.7 742.1L196.3 742.1Z"/>
<path class="af" d="M195 767.8L196.3 773.3L193.7 773.3Z"/>
<text class="tb" transform="translate(509.6 335.7) rotate(-90)" x="-8.2" y="5.83" font-size="17.8" textLength="16.4" lengthAdjust="spacingAndGlyphs">Y2</text>
<path class="t" d="M519.5 327.7V343.2L500.5 363.3"/>
<path class="af" d="M500 363.8L503.65 357.62L505.97 359.82Z"/>
<text class="tb" transform="translate(503.8 798.4) rotate(-90)" x="-8.2" y="5.83" font-size="17.8" textLength="16.4" lengthAdjust="spacingAndGlyphs">Y1</text>
<path class="t" d="M512.2 806.2V790.5L496.5 775.6"/>
<path class="af" d="M496 775L502.16 778.68L499.95 781Z"/>
<path class="t" d="M121 287.2L258.6 287.2"/>
<path class="t" d="M121 851.6L258.6 851.6"/>
<path class="t" d="M123 287.2L123 851.6"/>
<path class="af" d="M123 287.2L124.55 294.2L121.45 294.2Z"/>
<path class="af" d="M123 851.6L121.45 844.6L124.55 844.6Z"/>
<path class="t" d="M139.2 311.8L272 311.8"/>
<path class="t" d="M139.2 826.5L272 826.5"/>
<path class="t" d="M141.1 311.8L141.1 826.5"/>
<path class="af" d="M141.1 311.8L142.65 318.8L139.55 318.8Z"/>
<path class="af" d="M141.1 826.5L139.55 819.5L142.65 819.5Z"/>
<text class="ts" transform="translate(116.6 601.6) rotate(-90)" x="-11.3" y="4.76" font-size="13.5" textLength="22.6" lengthAdjust="spacingAndGlyphs">405</text>
<g transform="translate(120.7 587.2) rotate(-90)">
<text class="tsb" x="0" y="-0.6" font-size="11" textLength="5.2" lengthAdjust="spacingAndGlyphs">(</text>
<path class="pm" d="M6 -6H15M10.5 -10.3V-2M6 -0.7H15"/>
<text class="tsb" x="15.2" y="0" font-size="11.5" textLength="4.6" lengthAdjust="spacingAndGlyphs">1</text>
<text class="tc" x="19.8" y="-0.6" font-size="11.6" textLength="11.6" lengthAdjust="spacingAndGlyphs">联</text>
<path class="pm" d="M32.2 -6H41.2M36.7 -10.3V-2M32.2 -0.7H41.2"/>
<text class="tsb" x="42.8" y="0" font-size="11.5" textLength="13.4" lengthAdjust="spacingAndGlyphs">55</text>
<text class="tsb" x="56.6" y="-0.6" font-size="11" textLength="5.2" lengthAdjust="spacingAndGlyphs">)</text>
</g>
<text class="ts" transform="translate(135 601.6) rotate(-90)" x="-11.3" y="4.76" font-size="13.5" textLength="22.6" lengthAdjust="spacingAndGlyphs">369</text>
<g transform="translate(139.1 587.2) rotate(-90)">
<text class="tsb" x="0" y="-0.6" font-size="11" textLength="5.2" lengthAdjust="spacingAndGlyphs">(</text>
<path class="pm" d="M6 -6H15M10.5 -10.3V-2M6 -0.7H15"/>
<text class="tsb" x="15.2" y="0" font-size="11.5" textLength="4.6" lengthAdjust="spacingAndGlyphs">1</text>
<text class="tc" x="19.8" y="-0.6" font-size="11.6" textLength="11.6" lengthAdjust="spacingAndGlyphs">联</text>
<path class="pm" d="M32.2 -6H41.2M36.7 -10.3V-2M32.2 -0.7H41.2"/>
<text class="tsb" x="42.8" y="0" font-size="11.5" textLength="13.4" lengthAdjust="spacingAndGlyphs">55</text>
<text class="tsb" x="56.6" y="-0.6" font-size="11" textLength="5.2" lengthAdjust="spacingAndGlyphs">)</text>
</g>
<path class="t" d="M565.4 381L565.4 826.5"/>
<path class="t" d="M546 381L567.6 381"/>
<path class="af" d="M565.4 381L566.85 387.5L563.95 387.5Z"/>
<path class="t" d="M553 458.1L567.6 458.1"/>
<path class="af" d="M565.4 458.1L563.95 451.6L566.85 451.6Z"/>
<path class="af" d="M565.4 458.1L566.85 464.6L563.95 464.6Z"/>
<path class="t" d="M553 534.3L567.6 534.3"/>
<path class="af" d="M565.4 534.3L563.95 527.8L566.85 527.8Z"/>
<path class="af" d="M565.4 534.3L566.85 540.8L563.95 540.8Z"/>
<path class="t" d="M467 607.8L567.6 607.8"/>
<path class="af" d="M565.4 607.8L563.95 601.3L566.85 601.3Z"/>
<path class="af" d="M565.4 607.8L566.85 614.3L563.95 614.3Z"/>
<path class="t" d="M553 680.8L567.6 680.8"/>
<path class="af" d="M565.4 680.8L563.95 674.3L566.85 674.3Z"/>
<path class="af" d="M565.4 680.8L566.85 687.3L563.95 687.3Z"/>
<path class="t" d="M546 757.6L567.6 757.6"/>
<path class="af" d="M565.4 757.6L563.95 751.1L566.85 751.1Z"/>
<path class="af" d="M565.4 757.6L566.85 764.1L563.95 764.1Z"/>
<path class="t" d="M457.6 826.5L567.6 826.5"/>
<path class="af" d="M565.4 826.5L563.95 820L566.85 820Z"/>
<text class="ts" transform="translate(560 419.4) rotate(-90)" x="-7.65" y="4.76" font-size="13.5" textLength="15.3" lengthAdjust="spacingAndGlyphs">55</text>
<text class="ts" transform="translate(560 495.9) rotate(-90)" x="-7.65" y="4.76" font-size="13.5" textLength="15.3" lengthAdjust="spacingAndGlyphs">55</text>
<text class="ts" transform="translate(560 571.2) rotate(-90)" x="-12.75" y="4.76" font-size="13.5" textLength="25.5" lengthAdjust="spacingAndGlyphs">52.5</text>
<text class="ts" transform="translate(560 644.3) rotate(-90)" x="-12.75" y="4.76" font-size="13.5" textLength="25.5" lengthAdjust="spacingAndGlyphs">52.5</text>
<text class="ts" transform="translate(560 719.2) rotate(-90)" x="-7.65" y="4.76" font-size="13.5" textLength="15.3" lengthAdjust="spacingAndGlyphs">55</text>
<text class="ts" transform="translate(560 792) rotate(-90)" x="-12.75" y="4.76" font-size="13.5" textLength="25.5" lengthAdjust="spacingAndGlyphs">49.5</text>
<path class="t" d="M281 833L281 876.5"/>
<path class="t" d="M448.5 833L448.5 876.5"/>
<path class="t" d="M281 873.8L448.5 873.8"/>
<path class="af" d="M281 873.8L288 872.25L288 875.35Z"/>
<path class="af" d="M448.5 873.8L441.5 875.35L441.5 872.25Z"/>
<text class="ts" transform="translate(357.1 868.2)" x="-10.1" y="4.76" font-size="13.5" textLength="20.2" lengthAdjust="spacingAndGlyphs">120</text>
<path class="t" d="M294.7 806.8L233.4 892.5"/>
<path class="af" d="M286.4 819L289.17 812.38L291.77 814.24Z"/>
<path class="af" d="M275.7 833.9L272.93 840.52L270.33 838.66Z"/>
<text class="ts" transform="translate(233.84 889.13) rotate(-54.42)" font-size="13.5" textLength="38.5" lengthAdjust="spacingAndGlyphs">4-ø13</text>
<path class="t" d="M329.7 508.6L414.9 613.6"/>
<path class="af" d="M338.72 519.78L333.06 515.35L335.55 513.34Z"/>
<path class="af" d="M362.28 548.82L367.94 553.25L365.45 555.26Z"/>
<text class="ts" transform="translate(379.47 567.24) rotate(50.94)" font-size="13.5" textLength="57.5" lengthAdjust="spacingAndGlyphs">9-M27X2</text>
</svg>
</body></html>
